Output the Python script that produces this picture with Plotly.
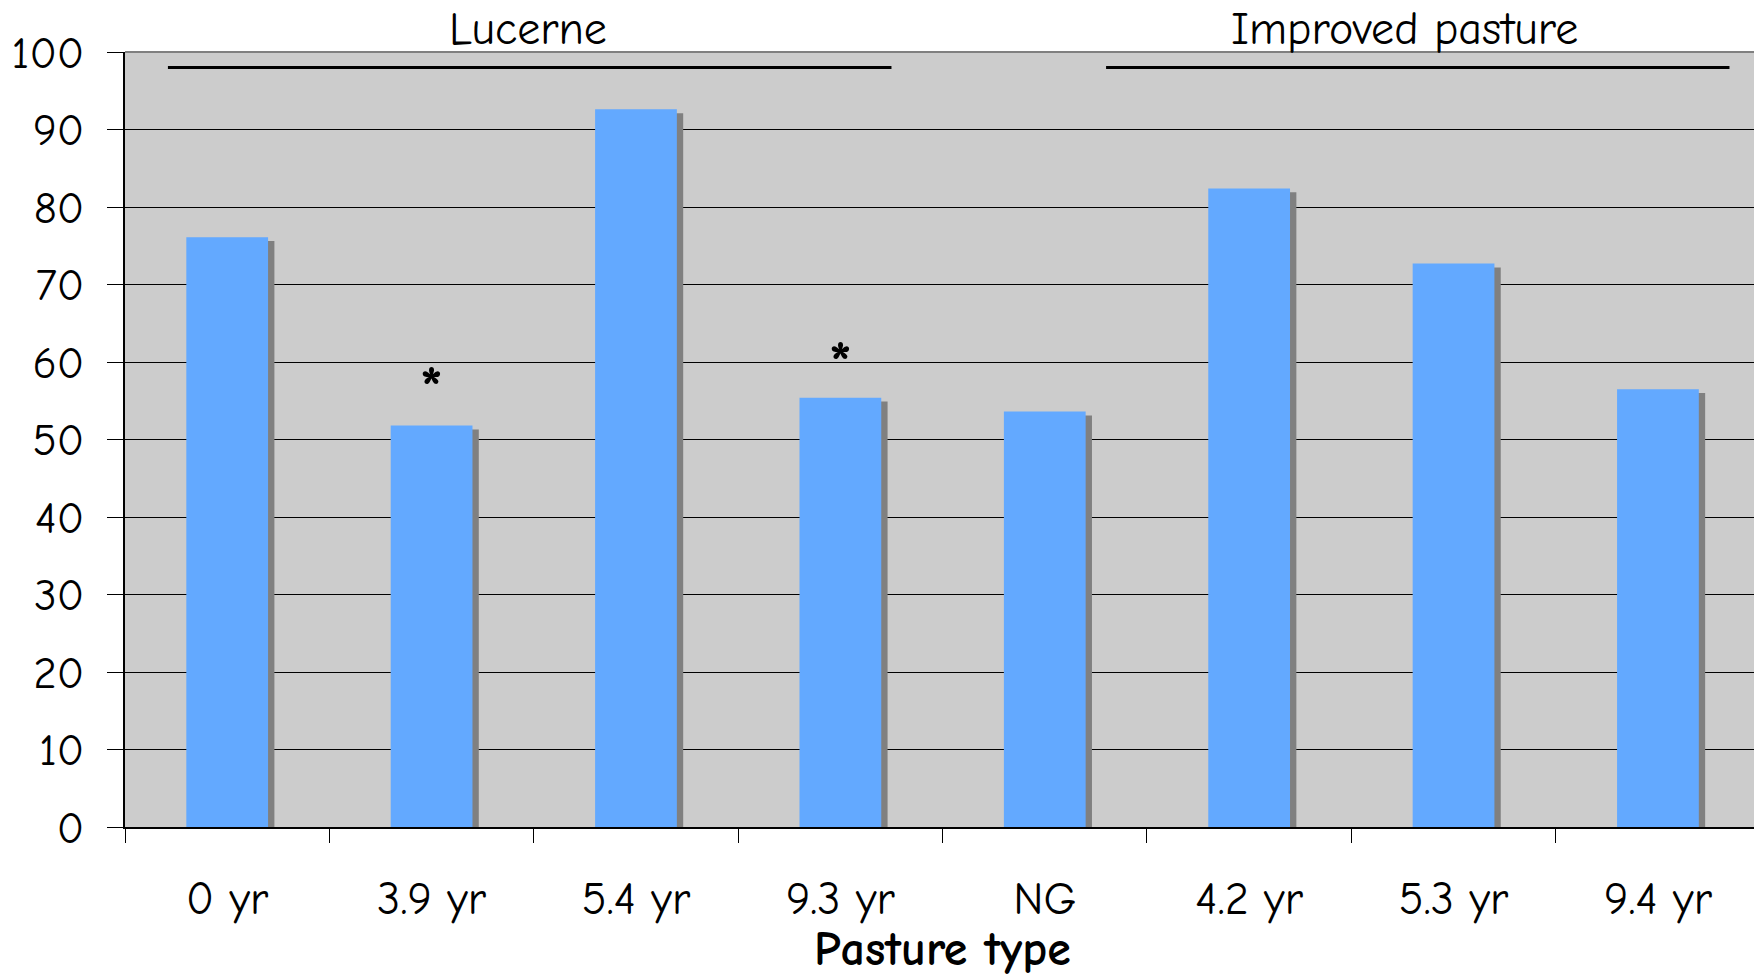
import plotly.graph_objects as go

categories = ["0 yr", "3.9 yr", "5.4 yr", "9.3 yr", "NG", "4.2 yr", "5.3 yr", "9.4 yr"]
values = [76.1, 51.8, 92.6, 55.4, 53.6, 82.4, 72.7, 56.5]
star_categories = ["3.9 yr", "9.3 yr"]
star_values = [58.0, 61.2]
y_ticks = [0, 10, 20, 30, 40, 50, 60, 70, 80, 90, 100]
group_labels = ["Lucerne", "Improved pasture"]

FONT = "Comic Sans MS, Comic Neue, Open Sans, sans-serif"
BAR_COLOR = "#63A9FF"
SHADOW_COLOR = "#808080"

shadow_drop = 0.5      # shadow top slightly lower than the bar
bar_width = 0.4

fig = go.Figure()
# shadow bars (drawn first, offset to the right)
fig.add_trace(go.Bar(
    x=categories, y=[v - shadow_drop for v in values],
    width=bar_width, offset=-bar_width / 2 + 0.031,
    marker=dict(color=SHADOW_COLOR, line=dict(width=0)),
    hoverinfo="skip", showlegend=False,
))
# main bars
fig.add_trace(go.Bar(
    x=categories, y=values,
    width=bar_width, offset=-bar_width / 2,
    marker=dict(color=BAR_COLOR, line=dict(width=0)),
    showlegend=False,
))

# significance asterisks
for c, v in zip(star_categories, star_values):
    fig.add_annotation(x=c, y=v, xref="x", yref="y", text="<b>*</b>",
                       showarrow=False, font=dict(family=FONT, size=60, color="black"),
                       yanchor="middle", yshift=-11)

# group lines and labels
fig.add_shape(type="line", xref="x", yref="y", x0=-0.29, x1=3.25, y0=98, y1=98,
              line=dict(color="black", width=3))
fig.add_shape(type="line", xref="x", yref="y", x0=4.30, x1=7.35, y0=98, y1=98,
              line=dict(color="black", width=3))
fig.add_annotation(x=1.47, y=1.029, xref="x", yref="paper", text=group_labels[0],
                   showarrow=False, yanchor="middle",
                   font=dict(family=FONT, size=46, color="black"))
fig.add_annotation(x=5.76, y=1.029, xref="x", yref="paper", text=group_labels[1],
                   showarrow=False, yanchor="middle",
                   font=dict(family=FONT, size=46, color="black"))

# x-axis title
fig.add_annotation(x=3.5, y=-0.158, xref="x", yref="paper", text="<b>Pasture type</b>",
                   showarrow=False, yanchor="middle",
                   font=dict(family=FONT, size=48, color="black"))

fig.update_layout(
    width=1754, height=977,
    margin=dict(l=125, r=0, t=52, b=150),
    paper_bgcolor="white",
    plot_bgcolor="#CCCCCC",
    barmode="overlay",
    bargap=0.6,
    font=dict(family=FONT, color="black"),
)
fig.update_xaxes(
    type="category",
    range=[-0.5, 7.47],
    tickson="boundaries",
    ticks="outside", ticklen=14, tickcolor="black", tickwidth=1,
    showline=True, linecolor="black", linewidth=2,
    showgrid=False,
    tickfont=dict(family=FONT, size=46, color="black"),
    ticklabelstandoff=30,
)
fig.update_yaxes(
    range=[0, 100],
    tickvals=y_ticks,
    ticks="outside", ticklen=16, tickcolor="black", tickwidth=1,
    showline=True, linecolor="black", linewidth=1.5,
    showgrid=True, gridcolor="black", gridwidth=1,
    zeroline=False,
    tickfont=dict(family=FONT, size=45, color="black"),
    ticklabelstandoff=14,
    mirror=False,
)
# top border of plot area
fig.add_shape(type="line", xref="paper", yref="paper", x0=0, x1=1, y0=1, y1=1,
              line=dict(color="#808080", width=2))

fig.write_html("out.html")
